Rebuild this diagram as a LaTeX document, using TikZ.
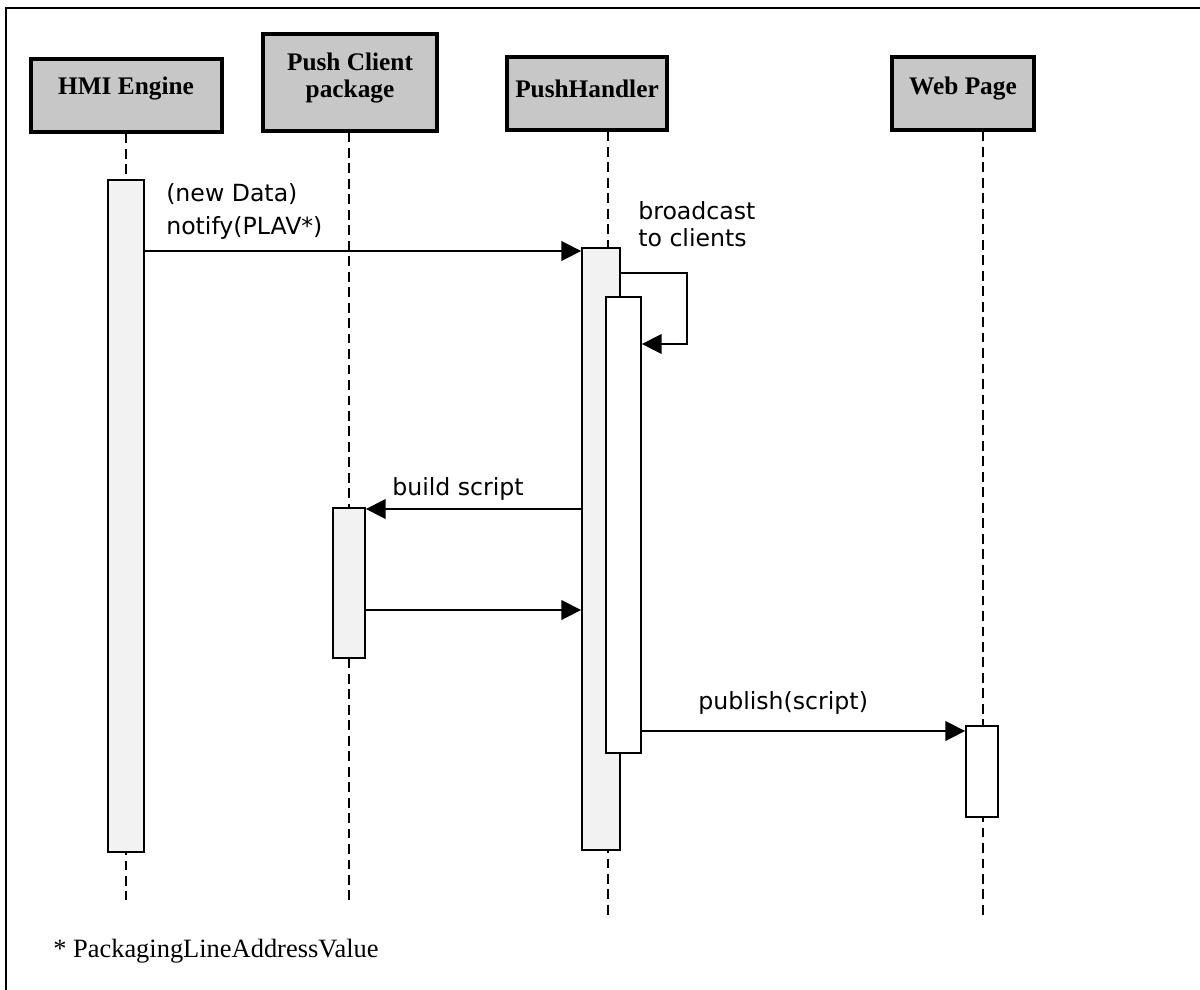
\documentclass[tikz,border=0pt]{standalone}
\usepackage{fontspec}
\setmainfont{Liberation Serif}
\newfontfamily\msgfont{DejaVu Sans}
\usetikzlibrary{arrows.meta,fit}

\tikzset{
  frame/.style={line width=1.6pt},
  head/.style={draw, line width=2.2pt, fill=black!22, inner sep=0pt},
  headtxt/.style={font=\bfseries\fontsize{18}{19.5}\selectfont, align=center, inner sep=0pt},
  life/.style={line width=1.1pt, dash pattern=on 7pt off 4pt},
  act/.style={draw, line width=1.3pt, fill=black!5, inner sep=0pt},
  actw/.style={act, fill=white},
  msg/.style={line width=1.2pt, -{Triangle[length=14pt,width=14pt]}},
  lbl/.style={font=\msgfont\fontsize{16.8}{23.5}\selectfont, align=left, inner sep=0pt, anchor=base west},
}

\begin{document}
\begin{tikzpicture}[x=0.025cm,y=-0.025cm]
\useasboundingbox (0,0) rectangle (1200,990);
\draw[frame] (1200,8) -- (6,8) -- (6,990);

% heads
\node[head, fit={(31,59) (222,132)}] (hmi) {};
\node[head, fit={(263,34) (437,131)}] (pcp) {};
\node[head, fit={(507,57) (667,130)}] (ph) {};
\node[head, fit={(892,57) (1034,130)}] (wp) {};
\node[headtxt] (hmitxt) at (126,89) {HMI Engine};
\node[headtxt] (pcptxt) at (350,78) {Push Client\\package};
\node[headtxt] (phtxt) at (587,89) {PushHandler};
\node[headtxt] (wptxt) at (963,89) {Web Page};

% lifelines
\coordinate (hmiEnd) at (126,900);
\coordinate (pcpEnd) at (349,900);
\coordinate (phEnd) at (608,915);
\coordinate (wpEnd) at (983,915);
\draw[life] (hmi.south -| hmiEnd) -- (hmiEnd);
\draw[life] (pcp.south -| pcpEnd) -- (pcpEnd);
\draw[life] (ph.south -| phEnd) -- (phEnd);
\draw[life] (wp.south -| wpEnd) -- (wpEnd);

% activations
\node[act, fit={(108,180) (144,852)}] (hmiA) {};
\node[act, fit={(333,508) (365,658)}] (pcpA) {};
\node[act, fit={(582,248) (620,850)}] (phA) {};
\node[actw, fit={(606,297) (641,753)}] (phB) {};
\node[actw, fit={(966,726) (998,817)}] (wpA) {};

% messages
\coordinate (m1) at (0,251);
\coordinate (loopR) at (687,273);
\coordinate (m2) at (0,344);
\coordinate (m3) at (0,509);
\coordinate (m4) at (0,610);
\coordinate (m5) at (0,731);
\draw[msg] (hmiA.east |- m1) -- (phA.west |- m1);
\draw[msg] (phA.east |- loopR) -- (loopR) |- (phB.east |- m2);
\draw[msg] (phA.west |- m3) -- (pcpA.east |- m3);
\draw[msg] (pcpA.east |- m4) -- (phA.west |- m4);
\draw[msg] (phB.east |- m5) -- (wpA.west |- m5);

\node[lbl] (notifytxt) at (166,235) {(new Data)\\notify(PLAV*)};
\node[lbl, font=\msgfont\fontsize{16.8}{19.5}\selectfont] (bcasttxt) at (638,247) {broadcast\\to clients};
\node[lbl] (buildtxt) at (392,495) {build script};
\node[lbl] (pubtxt) at (698,709) {publish(script)};

\node[anchor=base west, inner sep=0pt, font=\fontsize{18.8}{20}\selectfont] (foot) at (53,957) {* PackagingLineAddressValue};
\end{tikzpicture}
\end{document}
